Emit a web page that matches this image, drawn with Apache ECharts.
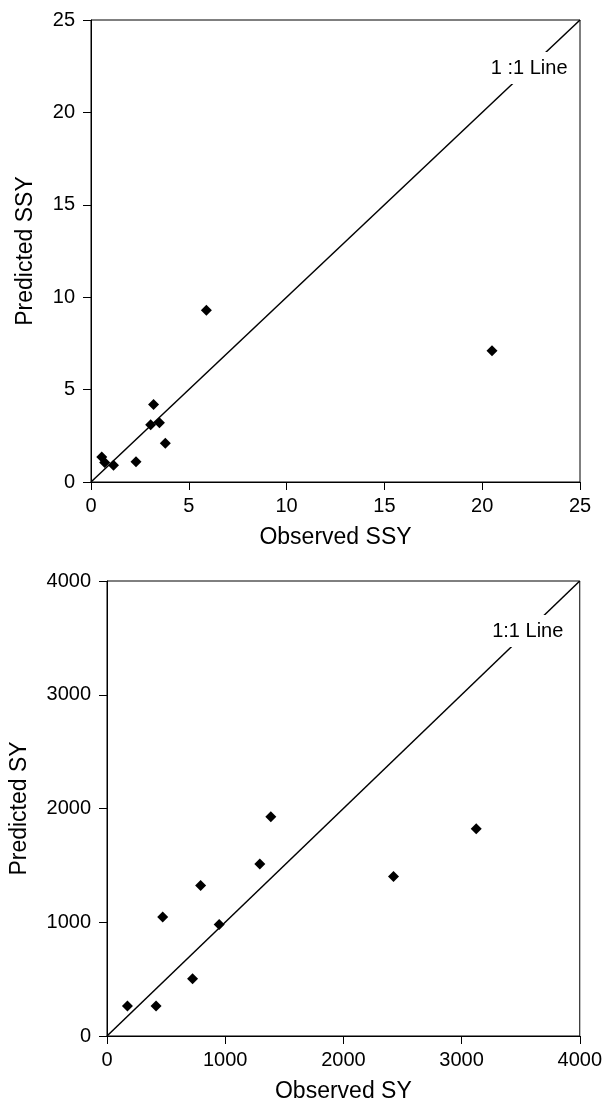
<!DOCTYPE html>
<html>
<head>
<meta charset="utf-8">
<script src="https://cdn.jsdelivr.net/npm/echarts@6/dist/echarts.min.js"></script>
<style>
  html, body { margin: 0; padding: 0; background: #fff; }
  #main { width: 605px; height: 1104px; }
</style>
</head>
<body>
<div id="main"></div>
<script>
// top panel: suspended sediment yield
const ssyObserved = [5.9, 3.2, 3.05, 3.5, 3.8, 2.3, 0.55, 0.7, 1.15, 20.5]
const ssyPredicted = [9.3, 4.2, 3.1, 3.2, 2.1, 1.1, 1.35, 1.05, 0.9, 7.1]
const ssyLine = [0, 25]
const ssyLabelAt = 22.4

// bottom panel: sediment yield
const syObserved = [173, 415, 724, 471, 949, 792, 1293, 1386, 3124, 2424]
const syPredicted = [263, 263, 503, 1047, 980, 1322, 1511, 1927, 1822, 1403]
const syLine = [0, 4000]
const syLabelAt = 3560

const font = 'Liberation Sans, Arial, sans-serif'

function pairs(xs, ys) {
  return xs.map((x, i) => [x, ys[i]])
}

function axisBase(max, interval, margin) {
  return {
    type: 'value',
    min: 0,
    max: max,
    interval: interval,
    splitLine: { show: false },
    axisLine: { show: true, onZero: false, lineStyle: { color: '#000', width: 1 } },
    axisTick: { show: true, length: 8, lineStyle: { color: '#000' } },
    axisLabel: {
      color: '#000',
      fontSize: 20,
      fontFamily: font,
      margin: margin,
      formatter: (v) => String(v),
    },
    nameLocation: 'middle',
    nameTextStyle: { color: '#000', fontSize: 23, fontFamily: font },
  }
}

function lineLabel(text) {
  return {
    show: true,
    position: 'inside',
    formatter: text,
    color: '#000',
    fontSize: 20,
    fontFamily: font,
    backgroundColor: '#fff',
    padding: [6, 2],
  }
}

const chart = echarts.init(document.getElementById('main'))

chart.setOption({
  animation: false,
  backgroundColor: '#fff',
  grid: [
    { left: 91, top: 20, width: 489, height: 462, show: true, borderColor: '#000', borderWidth: 1 },
    { left: 106.5, top: 581, width: 474, height: 461, show: true, borderColor: '#000', borderWidth: 1 },
  ],
  xAxis: [
    Object.assign(axisBase(25, 5, 14), { gridIndex: 0, name: 'Observed SSY', nameGap: 44 }),
    Object.assign(axisBase(4000, 1000, 14), { gridIndex: 1, name: 'Observed SY', nameGap: 44 }),
  ],
  yAxis: [
    Object.assign(axisBase(25, 5, 16), { gridIndex: 0, name: 'Predicted SSY', nameGap: 54 }),
    Object.assign(axisBase(4000, 1000, 16), { gridIndex: 1, name: 'Predicted SY', nameGap: 76 }),
  ],
  series: [
    {
      type: 'line',
      xAxisIndex: 0,
      yAxisIndex: 0,
      data: pairs(ssyLine, ssyLine),
      symbol: 'none',
      lineStyle: { color: '#000', width: 1.5 },
      z: 2,
    },
    {
      type: 'scatter',
      xAxisIndex: 0,
      yAxisIndex: 0,
      data: [[ssyLabelAt, ssyLabelAt]],
      symbolSize: 0,
      itemStyle: { opacity: 1 },
      label: lineLabel('1 :1 Line'),
      z: 3,
    },
    {
      type: 'scatter',
      xAxisIndex: 0,
      yAxisIndex: 0,
      data: pairs(ssyObserved, ssyPredicted),
      symbol: 'diamond',
      symbolSize: 11,
      itemStyle: { color: '#000', opacity: 1 },
      z: 4,
    },
    {
      type: 'line',
      xAxisIndex: 1,
      yAxisIndex: 1,
      data: pairs(syLine, syLine),
      symbol: 'none',
      lineStyle: { color: '#000', width: 1.5 },
      z: 2,
    },
    {
      type: 'scatter',
      xAxisIndex: 1,
      yAxisIndex: 1,
      data: [[syLabelAt, syLabelAt]],
      symbolSize: 0,
      itemStyle: { opacity: 1 },
      label: lineLabel('1:1 Line'),
      z: 3,
    },
    {
      type: 'scatter',
      xAxisIndex: 1,
      yAxisIndex: 1,
      data: pairs(syObserved, syPredicted),
      symbol: 'diamond',
      symbolSize: 11,
      itemStyle: { color: '#000', opacity: 1 },
      z: 4,
    },
  ],
})
</script>
</body>
</html>
